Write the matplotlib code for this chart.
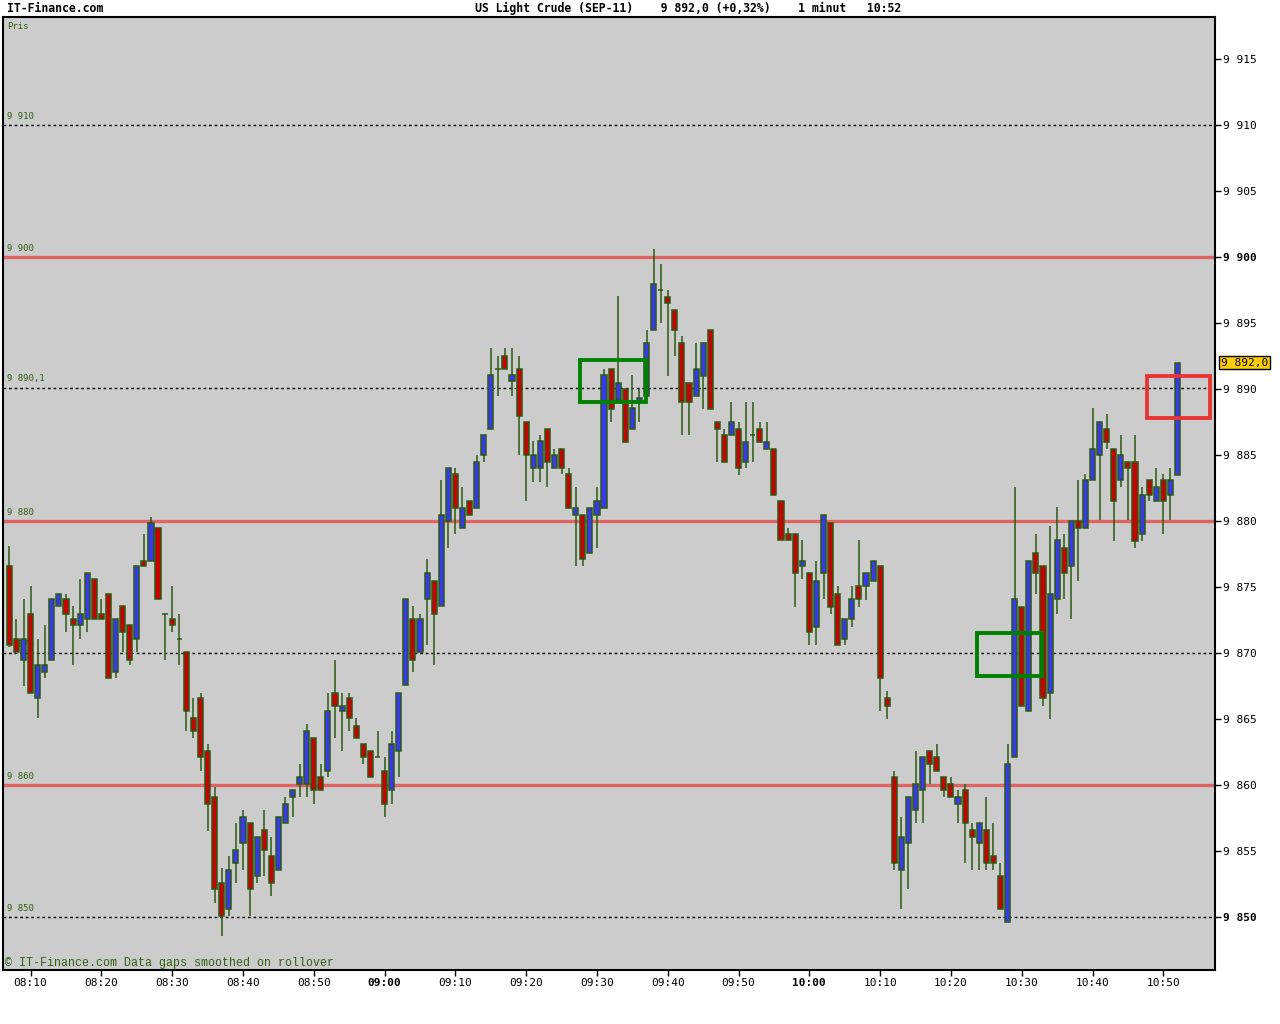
import matplotlib
matplotlib.use("Agg")
import matplotlib.pyplot as plt
import matplotlib.transforms as mtransforms
from matplotlib.patches import Rectangle
import pandas as pd

# 1 minute candles, US Light Crude (SEP-11), from 08:07 to 10:52
opens = [9876.6, 9871.1, 9869.5, 9873.0, 9866.6, 9868.6, 9869.5, 9873.6, 9874.1, 9872.6,
         9872.1, 9872.6, 9875.6, 9873.0, 9874.5, 9868.6, 9873.6, 9872.1, 9871.1, 9877.0,
         9877.0, 9879.5, 9873.0, 9872.6, 9871.1, 9870.1, 9865.1, 9866.6, 9862.6, 9859.1,
         9852.6, 9850.6, 9854.1, 9855.6, 9857.1, 9853.1, 9856.6, 9854.6, 9853.6, 9857.1,
         9859.1, 9860.1, 9860.1, 9863.6, 9860.6, 9861.1, 9867.0, 9865.6, 9866.6, 9864.5,
         9863.1, 9862.6, 9862.1, 9861.1, 9859.6, 9862.6, 9867.6, 9872.6, 9870.1, 9874.1,
         9875.5, 9873.6, 9880.0, 9883.6, 9879.5, 9881.5, 9881.0, 9885.0, 9887.0, 9891.5,
         9892.5, 9890.6, 9891.5, 9887.5, 9884.0, 9884.0, 9887.0, 9884.0, 9885.5, 9883.6,
         9880.5, 9880.5, 9877.6, 9880.5, 9881.0, 9891.5, 9889.2, 9890.0, 9887.0, 9889.0,
         9889.5, 9894.5, 9897.5, 9897.0, 9896.0, 9893.5, 9890.5, 9889.5, 9891.0, 9894.5,
         9887.5, 9886.5, 9886.5, 9887.0, 9884.5, 9886.5, 9887.0, 9885.5, 9885.5, 9881.5,
         9879.0, 9879.0, 9876.6, 9876.1, 9872.0, 9876.1, 9879.9, 9874.5, 9871.1, 9872.6,
         9875.1, 9875.1, 9875.5, 9876.6, 9866.6, 9860.6, 9853.6, 9855.6, 9858.1, 9859.6,
         9862.6, 9862.1, 9860.6, 9860.1, 9858.6, 9859.6, 9856.6, 9855.6, 9856.6, 9854.6,
         9853.1, 9849.6, 9862.1, 9873.5, 9865.6, 9877.6, 9876.6, 9867.0, 9874.1, 9878.0,
         9876.6, 9880.0, 9879.5, 9883.1, 9885.0, 9887.0, 9885.5, 9883.1, 9884.5, 9884.5,
         9879.0, 9883.1, 9881.5, 9883.1, 9882.0, 9883.5]
highs = [9878.1, 9872.6, 9874.1, 9875.1, 9871.1, 9872.1, 9874.1, 9874.5, 9874.5, 9873.6,
         9875.6, 9876.1, 9875.6, 9874.1, 9874.5, 9872.6, 9873.6, 9872.1, 9876.6, 9879.0,
         9880.3, 9879.5, 9873.0, 9875.1, 9873.0, 9870.1, 9866.6, 9867.0, 9863.1, 9859.9,
         9853.7, 9854.6, 9857.1, 9858.1, 9857.1, 9856.1, 9858.1, 9856.1, 9857.6, 9859.1,
         9859.6, 9861.6, 9864.6, 9863.6, 9861.6, 9867.0, 9869.5, 9867.0, 9867.0, 9865.1,
         9863.1, 9862.6, 9864.1, 9862.1, 9864.1, 9867.0, 9874.1, 9873.6, 9873.0, 9877.1,
         9875.5, 9883.1, 9884.0, 9884.0, 9882.6, 9881.5, 9885.0, 9886.5, 9893.1, 9892.5,
         9893.1, 9893.1, 9892.5, 9887.5, 9886.1, 9886.5, 9887.0, 9885.5, 9885.5, 9884.0,
         9882.6, 9880.5, 9881.0, 9882.6, 9891.5, 9891.5, 9897.1, 9890.0, 9891.1, 9890.0,
         9894.5, 9900.6, 9899.5, 9897.5, 9896.0, 9894.0, 9890.5, 9893.5, 9893.5, 9894.5,
         9887.5, 9887.0, 9889.0, 9887.5, 9889.0, 9889.0, 9887.5, 9887.5, 9885.5, 9881.5,
         9879.5, 9879.0, 9878.6, 9876.1, 9877.0, 9880.5, 9879.9, 9875.1, 9872.6, 9875.1,
         9878.6, 9876.1, 9877.0, 9876.6, 9867.1, 9861.1, 9857.6, 9859.1, 9862.6, 9862.1,
         9862.6, 9863.1, 9860.6, 9860.6, 9859.6, 9860.1, 9857.1, 9857.1, 9859.1, 9857.1,
         9854.1, 9863.1, 9882.6, 9873.5, 9877.0, 9879.0, 9876.6, 9879.6, 9881.1, 9879.0,
         9880.0, 9883.1, 9883.6, 9888.6, 9887.5, 9888.1, 9885.5, 9886.5, 9884.5, 9886.5,
         9882.6, 9883.1, 9884.0, 9883.6, 9884.0, 9892.0]
lows = [9870.6, 9870.1, 9867.5, 9867.0, 9865.1, 9868.1, 9869.5, 9873.6, 9871.6, 9869.1,
        9871.1, 9871.6, 9872.6, 9872.6, 9868.1, 9868.1, 9870.1, 9869.1, 9870.1, 9876.6,
        9877.0, 9874.1, 9869.5, 9871.6, 9869.1, 9864.1, 9863.6, 9861.1, 9856.5, 9851.1,
        9848.6, 9850.1, 9852.6, 9853.6, 9850.1, 9852.6, 9853.1, 9851.6, 9853.6, 9857.1,
        9857.6, 9859.1, 9859.1, 9858.6, 9859.6, 9860.6, 9863.6, 9862.6, 9864.1, 9863.6,
        9861.6, 9860.6, 9862.1, 9857.6, 9858.6, 9860.6, 9867.6, 9868.6, 9870.1, 9870.6,
        9869.1, 9873.6, 9878.0, 9879.0, 9879.5, 9880.5, 9881.0, 9884.5, 9887.0, 9889.5,
        9891.5, 9889.5, 9885.0, 9881.5, 9883.0, 9883.0, 9882.6, 9884.0, 9883.6, 9881.0,
        9876.6, 9876.6, 9877.6, 9878.0, 9881.0, 9887.5, 9889.2, 9886.0, 9887.0, 9887.5,
        9889.5, 9894.5, 9895.0, 9891.0, 9892.5, 9886.5, 9886.5, 9889.5, 9888.5, 9888.5,
        9884.5, 9884.5, 9886.5, 9883.5, 9884.0, 9884.5, 9886.0, 9885.5, 9882.0, 9878.6,
        9878.6, 9873.5, 9875.6, 9870.6, 9870.6, 9874.1, 9873.0, 9870.6, 9870.6, 9872.0,
        9873.5, 9874.0, 9875.5, 9865.6, 9865.0, 9853.6, 9850.6, 9852.1, 9857.1, 9857.1,
        9860.1, 9861.1, 9859.1, 9859.1, 9857.1, 9854.1, 9853.6, 9853.6, 9853.6, 9853.6,
        9850.6, 9849.6, 9862.1, 9866.0, 9865.6, 9874.5, 9866.0, 9865.0, 9873.0, 9874.1,
        9872.6, 9875.5, 9879.5, 9883.1, 9880.1, 9885.5, 9878.5, 9882.6, 9880.1, 9878.0,
        9878.5, 9881.5, 9881.5, 9879.0, 9880.1, 9883.5]
closes = [9870.6, 9870.1, 9871.1, 9867.0, 9869.1, 9869.1, 9874.1, 9874.5, 9873.0, 9872.1,
          9873.0, 9876.1, 9872.6, 9872.6, 9868.1, 9872.6, 9871.6, 9869.5, 9876.6, 9876.6,
          9879.9, 9874.1, 9873.0, 9872.1, 9871.1, 9865.6, 9864.1, 9862.1, 9858.6, 9852.1,
          9850.1, 9853.6, 9855.1, 9857.6, 9852.1, 9856.1, 9855.1, 9852.6, 9857.6, 9858.6,
          9859.6, 9860.6, 9864.1, 9859.6, 9859.6, 9865.6, 9866.0, 9866.0, 9865.1, 9863.6,
          9862.1, 9860.6, 9862.1, 9858.6, 9863.1, 9867.0, 9874.1, 9869.5, 9872.6, 9876.1,
          9873.0, 9880.5, 9884.0, 9881.0, 9881.0, 9880.5, 9884.5, 9886.5, 9891.1, 9891.5,
          9891.5, 9891.1, 9888.0, 9885.0, 9885.0, 9886.1, 9884.5, 9885.0, 9884.0, 9881.0,
          9881.0, 9877.1, 9881.0, 9881.5, 9891.1, 9888.5, 9890.5, 9886.0, 9888.6, 9889.3,
          9893.5, 9898.0, 9897.5, 9896.5, 9894.5, 9889.0, 9889.0, 9891.5, 9893.5, 9888.5,
          9887.0, 9884.5, 9887.5, 9884.0, 9886.0, 9886.5, 9886.0, 9886.0, 9882.0, 9878.6,
          9878.6, 9876.1, 9877.0, 9871.6, 9875.5, 9880.5, 9873.5, 9870.6, 9872.6, 9874.1,
          9874.1, 9876.1, 9877.0, 9868.1, 9866.0, 9854.1, 9856.1, 9859.1, 9860.1, 9862.1,
          9861.6, 9861.1, 9859.6, 9859.1, 9859.1, 9857.1, 9856.1, 9857.1, 9854.1, 9854.1,
          9850.6, 9861.6, 9874.1, 9866.0, 9877.0, 9876.1, 9866.6, 9874.5, 9878.6, 9876.1,
          9880.0, 9879.5, 9883.1, 9885.5, 9887.5, 9886.0, 9881.5, 9885.0, 9884.0, 9878.5,
          9882.0, 9882.0, 9882.6, 9881.5, 9883.1, 9892.0]

times = pd.date_range("2011-08-10 08:07", periods=len(opens), freq="min")

# horizontal levels
red_levels = [9900, 9880, 9860]
dotted_levels = [9910, 9890.1, 9870, 9850]
level_labels = {9910: "9 910", 9900: "9 900", 9890.1: "9 890,1", 9880: "9 880",
                9870: "9 870", 9860: "9 860", 9850: "9 850"}

# marker boxes: (from, to, low, high)
green_boxes = [("09:27:36", "09:36:54", 9889.0, 9892.2), ("10:23:42", "10:32:54", 9868.3, 9871.5)]
red_boxes = [("10:47:42", "10:56:36", 9887.8, 9891.0)]

last_price = "9 892,0"
header = "US Light Crude (SEP-11)    9 892,0 (+0,32%)    1 minut   10:52"

MONO = ["DejaVu Sans Mono"]
GREEN_TXT = "#2f6010"
EDGE = "#2a5a12"
BLUE = "#3838f0"
RED = "#cc0000"

fig = plt.figure(figsize=(12.8, 10.24), dpi=100)
ax = fig.add_axes([3 / 1280, 54 / 1024, 1212 / 1280, 953 / 1024])
ax.set_facecolor("#cccccc")

xs = list(range(len(opens)))
t0 = times[0]


def minute_index(hms):
    t = pd.Timestamp(f"2011-08-10 {hms}")
    return (t - t0) / pd.Timedelta(minutes=1)


# reference lines
for lv in dotted_levels:
    ax.axhline(lv, color="black", lw=1, ls=(0, (2, 2)), zorder=1)
for lv in red_levels:
    ax.axhline(lv, color="#e06464", lw=2.4, zorder=1)
left_tr = mtransforms.blended_transform_factory(ax.transAxes, ax.transData)
for lv, txt in level_labels.items():
    ax.text(0.003, lv + 0.35, txt, transform=left_tr,
            fontsize=6.5, color=GREEN_TXT, family=MONO, va="bottom", ha="left", zorder=2)

# candles
ax.vlines(xs, lows, highs, color=EDGE, lw=1.1, zorder=3)
for x, o, c in zip(xs, opens, closes):
    if abs(c - o) < 0.15:
        ax.hlines(o, x - 0.38, x + 0.38, color=EDGE, lw=1.1, zorder=4)
        continue
    col = BLUE if c > o else RED
    ax.bar(x, abs(c - o), bottom=min(o, c), width=0.72, color=col,
           edgecolor=EDGE, linewidth=1.1, zorder=4)

# boxes
for boxes, col in ((green_boxes, "#008000"), (red_boxes, "#e83535")):
    for a, b, lo, hi in boxes:
        xa, xb = minute_index(a), minute_index(b)
        ax.add_patch(Rectangle((xa, lo), xb - xa, hi - lo, fill=False,
                               edgecolor=col, lw=2.8, zorder=5))

ax.set_xlim(-0.9, 170.3)
ax.set_ylim(9846.0, 9918.2)

# x axis ticks
tick_pos = [i for i, t in enumerate(times) if t.minute % 10 == 0]
ax.set_xticks(tick_pos)
ax.set_xticklabels([times[i].strftime("%H:%M") for i in tick_pos], family=MONO, fontsize=8)
for lab, i in zip(ax.get_xticklabels(), tick_pos):
    if times[i].minute == 0:
        lab.set_fontweight("bold")
ax.tick_params(axis="x", direction="out", length=4, width=1, pad=2)

# y axis on right
yt = list(range(9850, 9916, 5))
ax.yaxis.tick_right()
ax.set_yticks(yt)
ax.set_yticklabels([f"9 {v - 9000:03d}" for v in yt], family=MONO, fontsize=8)
for lab, v in zip(ax.get_yticklabels(), yt):
    if v in (9900, 9850):
        lab.set_fontweight("bold")
ax.tick_params(axis="y", direction="out", length=4, width=1, pad=2)

for sp in ax.spines.values():
    sp.set_color("black")
    sp.set_linewidth(1.5)

# last price tag
ax.text(1.005, closes[-1], last_price, transform=left_tr,
        fontsize=8, family=MONO, va="center", ha="left", zorder=6,
        bbox=dict(boxstyle="square,pad=0.15", facecolor="#ffcc00", edgecolor="black", lw=1),
        clip_on=False)

# texts
ax.text(0.003, 0.995, "Pris", transform=ax.transAxes, fontsize=6.5, color=GREEN_TXT,
        family=MONO, va="top", ha="left")
ax.text(0.002, 0.001, "\u00a9 IT-Finance.com Data gaps smoothed on rollover", transform=ax.transAxes,
        fontsize=8.4, color=GREEN_TXT, family=["Liberation Mono"], va="bottom", ha="left")
fig.text(7 / 1280, 1 - 8 / 1024, "IT-Finance.com", fontsize=8.3, fontweight="bold",
         family=MONO, va="center", ha="left")
fig.text(475 / 1280, 1 - 8 / 1024, header, fontsize=8.3, fontweight="bold",
         family=MONO, va="center", ha="left")

fig.savefig("out.png", dpi=100, facecolor="white")
